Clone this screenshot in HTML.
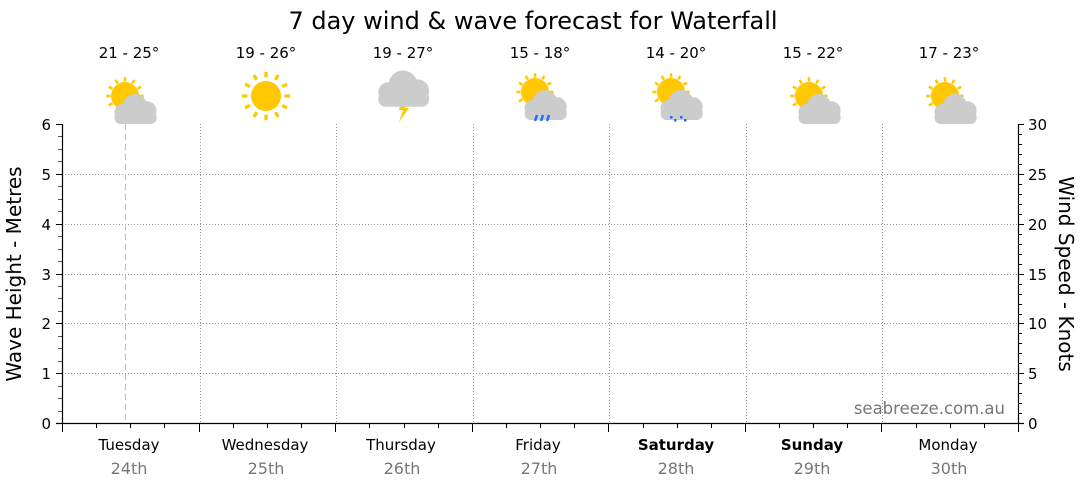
<!DOCTYPE html>
<html><head><meta charset="utf-8"><style>
html,body{margin:0;padding:0;background:#fff;}
svg{display:block;font-family:"DejaVu Sans","Liberation Sans",sans-serif;}
</style></head><body>
<svg width="1080" height="490" viewBox="0 0 1080 490" xmlns="http://www.w3.org/2000/svg">
<defs>
<g id="rays" stroke="#ffc800" stroke-width="3">
<line x1="0" y1="-17" x2="0" y2="-22"/><line x1="0" y1="17" x2="0" y2="22"/>
<line x1="-17" y1="0" x2="-22" y2="0"/><line x1="17" y1="0" x2="22" y2="0"/>
<line x1="8.5" y1="-14.7" x2="11" y2="-19"/><line x1="-8.5" y1="-14.7" x2="-11" y2="-19"/>
<line x1="8.5" y1="14.7" x2="11" y2="19"/><line x1="-8.5" y1="14.7" x2="-11" y2="19"/>
<line x1="14.7" y1="-8.5" x2="19" y2="-11"/><line x1="-14.7" y1="-8.5" x2="-19" y2="-11"/>
<line x1="14.7" y1="8.5" x2="19" y2="11"/><line x1="-14.7" y1="8.5" x2="-19" y2="11"/>
</g>
<g id="sunfull"><use href="#rays" transform="scale(1.1)"/><circle r="15" fill="#ffc800"/></g>
<g id="cloud" fill="#cccccc">
<circle cx="0" cy="0" r="10"/><circle cx="10" cy="4" r="8"/><circle cx="-10" cy="5" r="7"/>
<rect x="-17" y="4" width="35" height="11" rx="5"/>
</g>
<g id="pc">
<g transform="translate(-5,0)"><use href="#rays" transform="scale(0.85)"/><circle r="14" fill="#ffc800"/></g>
<use href="#cloud" transform="translate(5,10) scale(1.2)"/>
</g>
</defs>

<text x="533" y="29" font-size="24" text-anchor="middle" fill="#000">7 day wind &amp; wave forecast for Waterfall</text>

<g font-size="15" text-anchor="middle" fill="#000">
<text x="129" y="58">21 - 25°</text><text x="266" y="58">19 - 26°</text><text x="403" y="58">19 - 27°</text>
<text x="540" y="58">15 - 18°</text><text x="676" y="58">14 - 20°</text><text x="813" y="58">15 - 22°</text>
<text x="949" y="58">17 - 23°</text>
</g>

<g stroke="#999" stroke-width="1" stroke-dasharray="1,2">
<line x1="62" y1="174.5" x2="1018" y2="174.5"/><line x1="62" y1="224.5" x2="1018" y2="224.5"/>
<line x1="62" y1="274.5" x2="1018" y2="274.5"/><line x1="62" y1="323.5" x2="1018" y2="323.5"/>
<line x1="62" y1="373.5" x2="1018" y2="373.5"/>
<line x1="200.5" y1="124" x2="200.5" y2="423"/><line x1="336.5" y1="124" x2="336.5" y2="423"/>
<line x1="473.5" y1="124" x2="473.5" y2="423"/><line x1="609.5" y1="124" x2="609.5" y2="423"/>
<line x1="746.5" y1="124" x2="746.5" y2="423"/><line x1="882.5" y1="124" x2="882.5" y2="423"/>
</g>
<line x1="125.5" y1="124" x2="125.5" y2="423" stroke="#f0a0a8" stroke-dasharray="6,4"/>

<use href="#pc" transform="translate(130,96)"/>
<use href="#sunfull" transform="translate(266,96)"/>
<g transform="translate(403,88)">
<polygon points="-2,12 8,12 2,20 6,20 -4,34 0,22 -4,22" fill="#ffc800"/>
<use href="#cloud" transform="translate(0,-3) scale(1.45)"/>
</g>
<g transform="translate(540,92)">
<use href="#pc"/>
<g stroke="#1e6eff" stroke-width="2.5"><line x1="-3" y1="23" x2="-5" y2="29"/><line x1="3" y1="23" x2="1" y2="29"/><line x1="9" y1="23" x2="7" y2="29"/></g>
</g>
<g transform="translate(676,92)">
<use href="#pc"/>
<g fill="#1e6eff"><rect x="-6" y="24" width="2.5" height="2.5"/><rect x="-2" y="27" width="2.5" height="2.5"/><rect x="4" y="24" width="2.5" height="2.5"/><rect x="8" y="27" width="2.5" height="2.5"/></g>
</g>
<use href="#pc" transform="translate(814,96)"/>
<use href="#pc" transform="translate(950,96)"/>

<g stroke="#000" stroke-width="1.2">
<line x1="62.5" y1="124" x2="62.5" y2="423"/>
<line x1="1018.5" y1="124" x2="1018.5" y2="423"/>
<line x1="56" y1="423.5" x2="1024" y2="423.5"/>
</g>
<g stroke="#000" stroke-width="1">
<line x1="56" y1="124.5" x2="62" y2="124.5"/><line x1="56" y1="174.5" x2="62" y2="174.5"/>
<line x1="56" y1="224.5" x2="62" y2="224.5"/><line x1="56" y1="274.5" x2="62" y2="274.5"/>
<line x1="56" y1="323.5" x2="62" y2="323.5"/><line x1="56" y1="373.5" x2="62" y2="373.5"/>
</g>
<g stroke="#555">
<line x1="58" y1="136.5" x2="62" y2="136.5"/><line x1="58" y1="149.5" x2="62" y2="149.5"/><line x1="58" y1="161.5" x2="62" y2="161.5"/>
<line x1="58" y1="186.5" x2="62" y2="186.5"/><line x1="58" y1="199.5" x2="62" y2="199.5"/><line x1="58" y1="211.5" x2="62" y2="211.5"/>
<line x1="58" y1="236.5" x2="62" y2="236.5"/><line x1="58" y1="249.5" x2="62" y2="249.5"/><line x1="58" y1="261.5" x2="62" y2="261.5"/>
<line x1="58" y1="286.5" x2="62" y2="286.5"/><line x1="58" y1="298.5" x2="62" y2="298.5"/><line x1="58" y1="311.5" x2="62" y2="311.5"/>
<line x1="58" y1="336.5" x2="62" y2="336.5"/><line x1="58" y1="348.5" x2="62" y2="348.5"/><line x1="58" y1="361.5" x2="62" y2="361.5"/>
<line x1="58" y1="386.5" x2="62" y2="386.5"/><line x1="58" y1="398.5" x2="62" y2="398.5"/><line x1="58" y1="411.5" x2="62" y2="411.5"/>
</g>
<g stroke="#000">
<path d="M1018 124.5h6 M1018 134.5h4 M1018 144.5h4 M1018 154.5h4 M1018 164.5h4 M1018 174.5h6 M1018 184.5h4 M1018 194.5h4 M1018 204.5h4 M1018 214.5h4 M1018 224.5h6 M1018 234.5h4 M1018 244.5h4 M1018 254.5h4 M1018 264.5h4 M1018 274.5h6 M1018 284.5h4 M1018 294.5h4 M1018 304.5h4 M1018 314.5h4 M1018 323.5h6 M1018 333.5h4 M1018 343.5h4 M1018 353.5h4 M1018 363.5h4 M1018 373.5h6 M1018 383.5h4 M1018 393.5h4 M1018 403.5h4 M1018 413.5h4"/>
<path d="M62.5 423v9 M199.5 423v9 M335.5 423v9 M472.5 423v9 M608.5 423v9 M745.5 423v9 M881.5 423v9 M1018.5 423v9"/>
<path d="M96.5 423v5 M130.5 423v5 M164.5 423v5 M233.5 423v5 M267.5 423v5 M301.5 423v5 M369.5 423v5 M404.5 423v5 M438.5 423v5 M506.5 423v5 M540.5 423v5 M574.5 423v5 M643.5 423v5 M677.5 423v5 M711.5 423v5 M779.5 423v5 M813.5 423v5 M847.5 423v5 M916.5 423v5 M950.5 423v5 M984.5 423v5"/>
</g>

<g font-size="15" fill="#000" text-anchor="end">
<text x="51" y="130">6</text><text x="51" y="180">5</text><text x="51" y="230">4</text>
<text x="51" y="280">3</text><text x="51" y="329">2</text><text x="51" y="379">1</text><text x="51" y="429">0</text>
</g>
<g font-size="15" fill="#000">
<text x="1028" y="130">30</text><text x="1028" y="180">25</text><text x="1028" y="230">20</text>
<text x="1028" y="280">15</text><text x="1028" y="329">10</text><text x="1028" y="379">5</text><text x="1028" y="429">0</text>
</g>

<text transform="translate(21,274) rotate(-90)" font-size="20" text-anchor="middle" fill="#000">Wave Height - Metres</text>
<text transform="translate(1059,274) rotate(90)" font-size="20" text-anchor="middle" fill="#000">Wind Speed - Knots</text>

<text x="1005" y="414" font-size="16.5" text-anchor="end" fill="#777">seabreeze.com.au</text>

<g font-size="15" text-anchor="middle" fill="#000">
<text x="129" y="450">Tuesday</text><text x="265" y="450">Wednesday</text><text x="401" y="450">Thursday</text>
<text x="538" y="450">Friday</text><text x="676" y="450" font-weight="bold">Saturday</text>
<text x="812" y="450" font-weight="bold">Sunday</text><text x="948" y="450">Monday</text>
</g>
<g font-size="16" text-anchor="middle" fill="#777">
<text x="129" y="474">24th</text><text x="266" y="474">25th</text><text x="402" y="474">26th</text>
<text x="539" y="474">27th</text><text x="676" y="474">28th</text><text x="812" y="474">29th</text><text x="949" y="474">30th</text>
</g>
</svg>
</body></html>
